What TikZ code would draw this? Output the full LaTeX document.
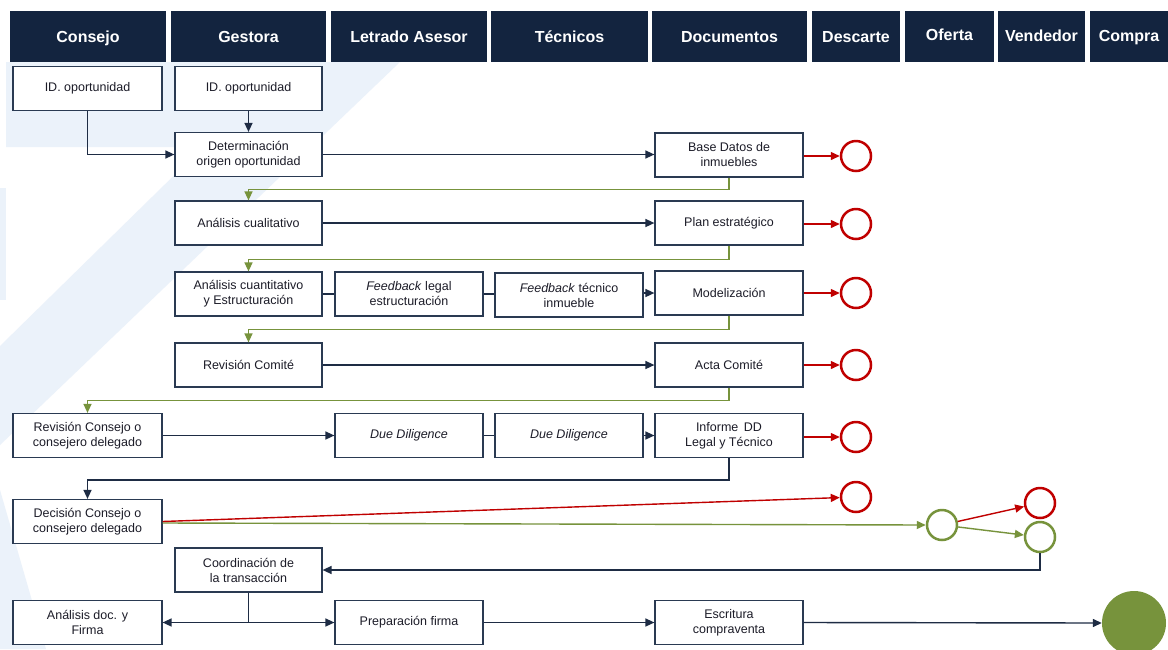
\documentclass[tikz,border=0pt]{standalone}
\usepackage{fontspec}
\setmainfont{Liberation Sans}
\usetikzlibrary{arrows.meta}
\definecolor{navy}{HTML}{13243F}
\definecolor{lnc}{HTML}{1E2C44}
\definecolor{boxc}{HTML}{2A3A52}
\definecolor{grn}{HTML}{77933C}
\definecolor{rd}{HTML}{C00000}
\definecolor{wm}{HTML}{EBF2FA}
\definecolor{txt}{HTML}{1C1C28}
\tikzset{
  hdr/.style={fill=navy, draw=none, text=white, font=\fontsize{16}{18}\selectfont\bfseries, minimum height=51pt, inner sep=0pt, text height=13.5pt, text depth=1.5pt},
  box/.style={draw=boxc, line width=1.2pt, fill=white, text=txt, font=\fontsize{12.5}{15}\selectfont, align=center, minimum height=44pt, minimum width=148pt, inner sep=1pt},
  darr/.style={draw=lnc, line width=1.4pt, -{Triangle[length=9pt,width=8pt]}},
  dln/.style={draw=lnc, line width=1.4pt},
  garr/.style={draw=grn, line width=1.4pt, -{Triangle[length=9pt,width=8pt]}},
  rarr/.style={draw=rd, line width=1.4pt, -{Triangle[length=9pt,width=8pt]}},
  rcirc/.style={circle, draw=rd, line width=2.5pt, fill=white, minimum size=30pt, inner sep=0pt},
  gcirc/.style={circle, draw=grn, line width=2.5pt, fill=white, minimum size=30pt, inner sep=0pt},
}
\begin{document}
\begin{tikzpicture}[x=1pt,y=-1pt]
\useasboundingbox (0,0) rectangle (1168,649);
\fill[white] (0,0) rectangle (1168,649);
% watermark
\fill[wm] (6,62) -- (400,62) -- (0,445) -- (0,346) -- (203,147) -- (6,147) -- cycle;
\fill[wm] (0,188) rectangle (6,300);
\fill[wm] (0,490) -- (46,649) -- (0,649) -- cycle;
% header
\node[hdr, minimum width=156pt] (h1) at (88,36.5) {Consejo};
\node[hdr, minimum width=155pt] (h2) at (248.5,36.5) {Gestora};
\node[hdr, minimum width=156pt] (h3) at (409,36.5) {Letrado Asesor};
\node[hdr, minimum width=157pt] (h4) at (569.5,36.5) {Técnicos};
\node[hdr, minimum width=155pt] (h5) at (729.5,36.5) {Documentos};
\node[hdr, minimum width=88pt] (h6) at (856,36.5) {Descarte};
\node[hdr, minimum width=89pt] (h7) at (949.5,36.5) {\raisebox{2pt}{Oferta}};
\node[hdr, minimum width=87pt] (h8) at (1041.5,36.5) {\raisebox{1.5pt}{Vendedor}};
\node[hdr, minimum width=78pt] (h9) at (1129,36.5) {\raisebox{1.5pt}{Compra}};
% boxes
\node[box, minimum width=149pt] (idc) at (87.5,88.5) {ID. oportunidad};
\node[box, minimum width=147pt] (idg) at (248.5,88.5) {ID. oportunidad};
\node[box, minimum width=147pt] (det) at (248.5,154.5) {Determinación\\origen oportunidad};
\node[box] (bd) at (729,155) {Base Datos de\\inmuebles};
\node[box, minimum width=147pt] (acual) at (248.5,223) {Análisis cualitativo};
\node[box] (plan) at (729,223) {Plan estratégico};
\node[box, minimum width=147pt] (acuant) at (248.5,294) {Análisis cuantitativo\\y Estructuración};
\node[box] (fbl) at (409,294) {\textit{Feedback} legal\\estructuración};
\node[box] (fbt) at (569,295) {\textit{Feedback} técnico\\inmueble};
\node[box] (model) at (729,293) {Modelización};
\node[box, minimum width=147pt] (rcom) at (248.5,365) {Revisión Comité};
\node[box] (acta) at (729,365) {Acta Comité};
\node[box, minimum width=149pt] (rcons) at (87.5,435.5) {Revisión Consejo o\\consejero delegado};
\node[box] (dd1) at (409,435.5) {\textit{Due Diligence}};
\node[box] (dd2) at (569,435.5) {\textit{Due Diligence}};
\node[box] (inf) at (729,435.5) {Informe\, DD\\Legal y Técnico};
\node[box, minimum width=149pt] (dec) at (87.5,521.5) {Decisión Consejo o\\consejero delegado};
\node[box, minimum width=147pt] (coord) at (248.5,570) {Coordinación de\\la transacción};
\node[box, minimum width=149pt] (adoc) at (87.5,622.5) {Análisis doc. y\\Firma};
\node[box] (prep) at (409,622.5) {Preparación firma};
\node[box] (esc) at (729,622.5) {Escritura\\compraventa};
% circles
\node[rcirc] (d1) at (856,156) {};
\node[rcirc] (d2) at (856,224) {};
\node[rcirc] (d3) at (856,293) {};
\node[rcirc] (d4) at (856,365) {};
\node[rcirc] (d5) at (856,437) {};
\node[rcirc] (d6) at (856,497) {};
\node[gcirc] (of) at (942,525) {};
\node[rcirc] (vr) at (1040,503) {};
\node[gcirc] (vg) at (1040,537) {};
\node[circle, fill=grn, draw=none, minimum size=64pt, inner sep=0pt] (fin) at (1134,623) {};
% dark connectors
\draw[darr] (idc.south) |- (det.west);
\draw[darr] (idg.south) -- (det.north);
\draw[darr] (det.east) -- (bd.west |- det.east);
\draw[darr] (acual.east) -- (plan.west);
\draw[dln] (acuant.east) -- (fbl.west |- acuant.east);
\draw[dln] (fbl.east) -- (fbt.west |- fbl.east);
\draw[darr] (fbt.east |- model.east) -- (model.west);
\draw[darr] (rcom.east) -- (acta.west);
\draw[darr] (rcons.east) -- (dd1.west);
\draw[dln] (dd1.east) -- (dd2.west);
\draw[darr] (dd2.east) -- (inf.west);
\draw[darr] (inf.south) -- ++(0,22) -| (dec.north);
\draw[darr] (vg.south) |- (coord.east);
\draw[darr] (coord.south) |- (adoc.east);
\draw[darr] (coord.south) |- (prep.west);
\draw[darr] (prep.east) -- (esc.west);
\draw[darr] (esc.east) -- (fin.west);
% green connectors
\draw[garr] (bd.south) -- ++(0,12) -| (acual.north);
\draw[garr] (plan.south) -- ++(0,14) -| (acuant.north);
\draw[garr] (model.south) -- ++(0,14) -| (rcom.north);
\draw[garr] (acta.south) -- ++(0,13) -| (rcons.north);
\draw[garr] ([yshift=-1.5pt]dec.east) -- (of.west);
\draw[garr] (of) -- (vg);
% red connectors
\draw[rarr] (bd.east |- d1) -- (d1.west);
\draw[rarr] (plan.east |- d2) -- (d2.west);
\draw[rarr] (model.east |- d3) -- (d3.west);
\draw[rarr] (acta.east |- d4) -- (d4.west);
\draw[rarr] (inf.east |- d5) -- (d5.west);
\draw[rarr] (dec.east) -- (d6);
\draw[rarr] (of) -- (vr);
\end{tikzpicture}
\end{document}
